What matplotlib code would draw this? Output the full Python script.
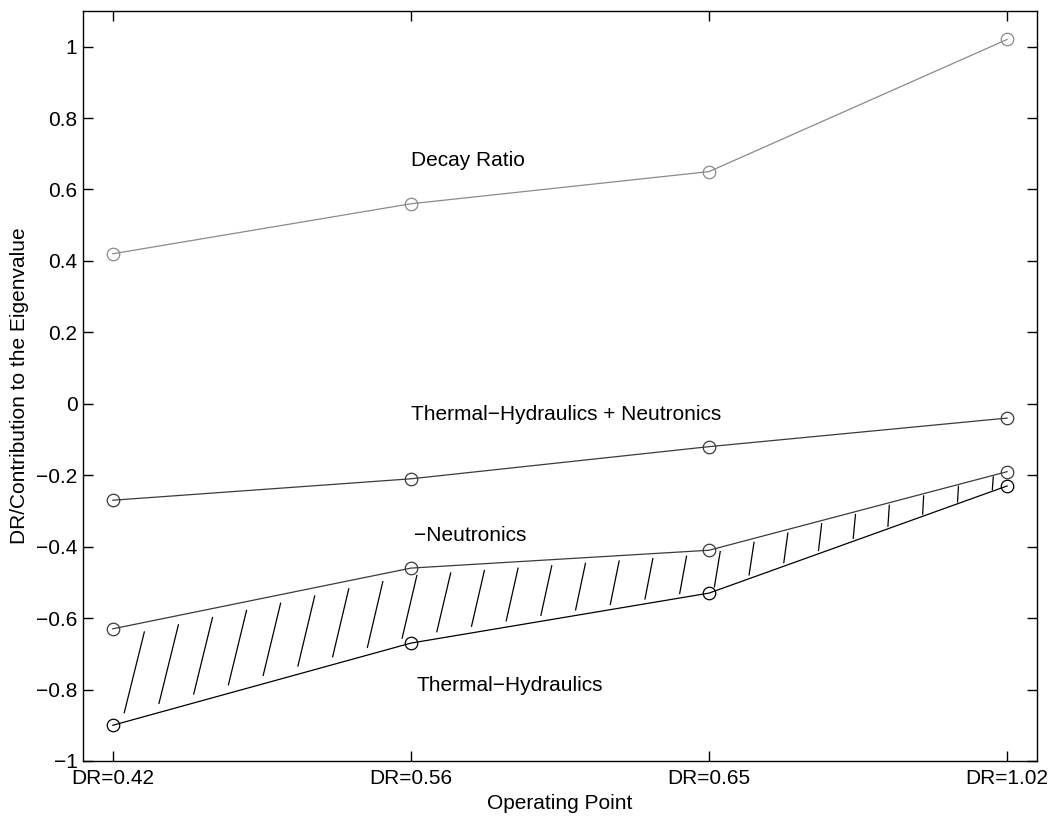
import numpy as np
import matplotlib.pyplot as plt
from matplotlib.ticker import FuncFormatter

plt.rcParams['font.family'] = ['Liberation Sans', 'DejaVu Sans']

# operating points
points = [1, 2, 3, 4]
point_labels = ['DR=0.42', 'DR=0.56', 'DR=0.65', 'DR=1.02']

decay_ratio = [0.42, 0.56, 0.65, 1.02]
th_plus_n = [-0.27, -0.21, -0.12, -0.04]
minus_neutronics = [-0.63, -0.46, -0.41, -0.19]
thermal_hydraulics = [-0.90, -0.67, -0.53, -0.23]

fs = 15

fig = plt.figure(figsize=(10.57, 8.18), dpi=100)
ax = fig.add_axes([0.0785, 0.0697, 0.9025, 0.917])

ax.plot(points, decay_ratio, '-o', color='#8a8a8a', lw=0.9, ms=9,
        mfc='none', mec='#8a8a8a', mew=0.9)
ax.plot(points, th_plus_n, '-o', color='#3a3a3a', lw=0.9, ms=9,
        mfc='none', mec='#3a3a3a', mew=0.9)
ax.plot(points, minus_neutronics, '-o', color='#3a3a3a', lw=0.9, ms=9,
        mfc='none', mec='#3a3a3a', mew=0.9)
ax.plot(points, thermal_hydraulics, '-o', color='black', lw=0.9, ms=9,
        mfc='none', mec='black', mew=0.9)

# sparse slanted hatch between -Neutronics and Thermal-Hydraulics
hx = np.linspace(1.03, 3.95, 26)
for x0 in hx:
    lo0 = np.interp(x0, points, thermal_hydraulics)
    gap = np.interp(x0, points, minus_neutronics) - lo0
    x1 = min(x0 + max(0.4 * gap - 0.023, 0.004), 3.99)
    hi1 = np.interp(x1, points, minus_neutronics)
    # shrink the segment away from the two curves
    a = x0 + 0.1 * (x1 - x0), x0 + 0.9 * (x1 - x0)
    b = lo0 + 0.1 * (hi1 - lo0), lo0 + 0.9 * (hi1 - lo0)
    ax.plot(a, b, color='black', lw=0.9)

ax.text(2.0, 0.68, 'Decay Ratio', fontsize=fs, va='center')
ax.text(2.0, -0.03, 'Thermal\u2212Hydraulics + Neutronics', fontsize=fs, va='center')
ax.text(2.01, -0.37, '\u2212Neutronics', fontsize=fs, va='center')
ax.text(2.02, -0.79, 'Thermal\u2212Hydraulics', fontsize=fs, va='center')


def ylab(v, p):
    v = round(v, 2)
    if v == 0:
        return '0'
    return ('%g' % v).replace('-', '\u2212')


ax.set_xlim(0.9, 4.1)
ax.set_ylim(-1, 1.1)
ax.set_xticks(points)
ax.set_xticklabels(point_labels)
ax.set_yticks(np.arange(-1, 1.01, 0.2))
ax.yaxis.set_major_formatter(FuncFormatter(ylab))
ax.tick_params(direction='in', length=7, width=1, top=True, right=True,
               labelsize=fs, pad=4)
ax.tick_params(axis='x', pad=6)
for s in ax.spines.values():
    s.set_linewidth(1)

ax.set_xlabel('Operating Point', fontsize=fs, labelpad=4)
ax.set_ylabel('DR/Contribution to the Eigenvalue', fontsize=fs, labelpad=5)

fig.savefig('out.png', dpi=100)
